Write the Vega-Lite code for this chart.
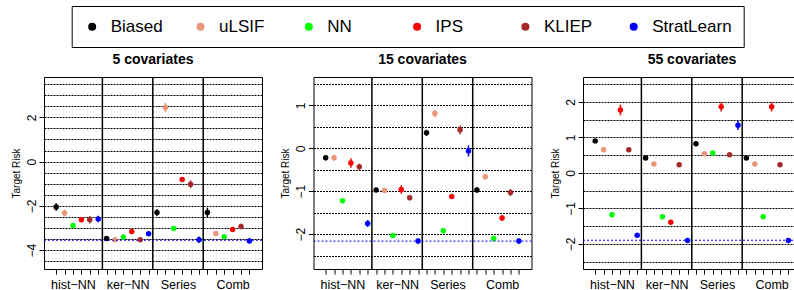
{
  "$schema": "https://vega.github.io/schema/vega-lite/v6.json",
  "padding": {"left": 10, "top": 5, "right": 0, "bottom": 0},
  "config": {
    "font": "Liberation Sans",
    "view": {"stroke": "black", "strokeWidth": 1},
    "axis": {"labelColor": "black", "tickColor": "black", "titleColor": "black", "labelFont": "Liberation Sans", "titleFont": "Liberation Sans"},
    "axisX": {"grid": false, "domain": false, "tickSize": 5, "labelPadding": 4, "labelFontSize": 12.5, "labelOverlap": false, "labelFlush": false, "labelBound": false},
    "axisY": {"grid": true, "gridDash": [2, 1], "gridColor": "black", "gridWidth": 1, "gridOpacity": 1, "domain": false, "tickSize": 5, "labelAngle": 270, "labelAlign": "center", "labelBaseline": "middle", "labelPadding": 8, "labelFontSize": 12, "labelOverlap": false, "labelFlush": false, "labelBound": false,
              "titleFontSize": 10, "titleFontWeight": "normal", "titleX": -28, "titleY": 96, "titleAngle": 270, "titleAlign": "center", "titleBaseline": "middle"},
    "legend": {"title": null, "orient": "none", "legendX": 27.7, "legendY": -71, "direction": "horizontal", "columns": 6, "gridAlign": "all", "symbolType": "circle", "symbolSize": 64, "symbolStrokeWidth": 0, "labelFontSize": 17, "labelFont": "Liberation Sans", "labelColor": "black", "labelOffset": 10, "columnPadding": 1.3, "padding": 12, "strokeColor": "black"},
    "title": {"font": "Liberation Sans", "color": "black", "fontSize": 14, "fontWeight": "bold", "baseline": "alphabetic", "offset": 9}
  },
  "bounds": "flush",
  "spacing": 51.5,
  "datasets": {
    "seps": [{"pos": 6.5}, {"pos": 12.5}, {"pos": 18.5}],
    "refs": [{"panel": "5", "risk": -3.55}, {"panel": "15", "risk": -2.16}, {"panel": "55", "risk": -1.9}],
    "pts": [
      {"panel": "5", "pos": 1, "method": "Biased", "risk": -2.05, "lo": -2.22, "hi": -1.88},
      {"panel": "5", "pos": 2, "method": "uLSIF", "risk": -2.32, "lo": -2.47, "hi": -2.17},
      {"panel": "5", "pos": 3, "method": "NN", "risk": -2.89, "lo": -2.94, "hi": -2.84},
      {"panel": "5", "pos": 4, "method": "IPS", "risk": -2.63, "lo": -2.71, "hi": -2.55},
      {"panel": "5", "pos": 5, "method": "KLIEP", "risk": -2.63, "lo": -2.8, "hi": -2.46},
      {"panel": "5", "pos": 6, "method": "StratLearn", "risk": -2.59, "lo": -2.74, "hi": -2.44},
      {"panel": "5", "pos": 7, "method": "Biased", "risk": -3.47, "lo": -3.55, "hi": -3.39},
      {"panel": "5", "pos": 8, "method": "uLSIF", "risk": -3.53, "lo": -3.6, "hi": -3.46},
      {"panel": "5", "pos": 9, "method": "NN", "risk": -3.4, "lo": -3.45, "hi": -3.35},
      {"panel": "5", "pos": 10, "method": "IPS", "risk": -3.16, "lo": -3.24, "hi": -3.08},
      {"panel": "5", "pos": 11, "method": "KLIEP", "risk": -3.53, "lo": -3.58, "hi": -3.48},
      {"panel": "5", "pos": 12, "method": "StratLearn", "risk": -3.26, "lo": -3.31, "hi": -3.21},
      {"panel": "5", "pos": 13, "method": "Biased", "risk": -2.3, "lo": -2.45, "hi": -2.15},
      {"panel": "5", "pos": 14, "method": "uLSIF", "risk": 2.44, "lo": 2.24, "hi": 2.64},
      {"panel": "5", "pos": 15, "method": "NN", "risk": -3.02, "lo": -3.06, "hi": -2.98},
      {"panel": "5", "pos": 16, "method": "IPS", "risk": -0.81, "lo": -0.86, "hi": -0.76},
      {"panel": "5", "pos": 17, "method": "KLIEP", "risk": -1.02, "lo": -1.19, "hi": -0.85},
      {"panel": "5", "pos": 18, "method": "StratLearn", "risk": -3.53, "lo": -3.68, "hi": -3.38},
      {"panel": "5", "pos": 19, "method": "Biased", "risk": -2.3, "lo": -2.52, "hi": -2.08},
      {"panel": "5", "pos": 20, "method": "uLSIF", "risk": -3.25, "lo": -3.31, "hi": -3.19},
      {"panel": "5", "pos": 21, "method": "NN", "risk": -3.39, "lo": -3.44, "hi": -3.34},
      {"panel": "5", "pos": 22, "method": "IPS", "risk": -3.07, "lo": -3.13, "hi": -3.01},
      {"panel": "5", "pos": 23, "method": "KLIEP", "risk": -2.93, "lo": -3.05, "hi": -2.81},
      {"panel": "5", "pos": 24, "method": "StratLearn", "risk": -3.58, "lo": -3.7, "hi": -3.46},
      {"panel": "15", "pos": 1, "method": "Biased", "risk": -0.22, "lo": -0.28, "hi": -0.16},
      {"panel": "15", "pos": 2, "method": "uLSIF", "risk": -0.22, "lo": -0.29, "hi": -0.15},
      {"panel": "15", "pos": 3, "method": "NN", "risk": -1.22, "lo": -1.24, "hi": -1.2},
      {"panel": "15", "pos": 4, "method": "IPS", "risk": -0.34, "lo": -0.45, "hi": -0.23},
      {"panel": "15", "pos": 5, "method": "KLIEP", "risk": -0.43, "lo": -0.5, "hi": -0.36},
      {"panel": "15", "pos": 6, "method": "StratLearn", "risk": -1.75, "lo": -1.83, "hi": -1.67},
      {"panel": "15", "pos": 7, "method": "Biased", "risk": -0.97, "lo": -1.02, "hi": -0.92},
      {"panel": "15", "pos": 8, "method": "uLSIF", "risk": -0.98, "lo": -1.04, "hi": -0.92},
      {"panel": "15", "pos": 9, "method": "NN", "risk": -2.03, "lo": -2.06, "hi": -2.0},
      {"panel": "15", "pos": 10, "method": "IPS", "risk": -0.96, "lo": -1.06, "hi": -0.86},
      {"panel": "15", "pos": 11, "method": "KLIEP", "risk": -1.15, "lo": -1.21, "hi": -1.09},
      {"panel": "15", "pos": 12, "method": "StratLearn", "risk": -2.16, "lo": -2.22, "hi": -2.1},
      {"panel": "15", "pos": 13, "method": "Biased", "risk": 0.36, "lo": 0.29, "hi": 0.43},
      {"panel": "15", "pos": 14, "method": "uLSIF", "risk": 0.81, "lo": 0.72, "hi": 0.9},
      {"panel": "15", "pos": 15, "method": "NN", "risk": -1.92, "lo": -1.98, "hi": -1.86},
      {"panel": "15", "pos": 16, "method": "IPS", "risk": -1.12, "lo": -1.16, "hi": -1.08},
      {"panel": "15", "pos": 17, "method": "KLIEP", "risk": 0.43, "lo": 0.33, "hi": 0.53},
      {"panel": "15", "pos": 18, "method": "StratLearn", "risk": -0.06, "lo": -0.19, "hi": 0.07},
      {"panel": "15", "pos": 19, "method": "Biased", "risk": -0.97, "lo": -1.03, "hi": -0.91},
      {"panel": "15", "pos": 20, "method": "uLSIF", "risk": -0.66, "lo": -0.72, "hi": -0.6},
      {"panel": "15", "pos": 21, "method": "NN", "risk": -2.1, "lo": -2.13, "hi": -2.07},
      {"panel": "15", "pos": 22, "method": "IPS", "risk": -1.62, "lo": -1.69, "hi": -1.55},
      {"panel": "15", "pos": 23, "method": "KLIEP", "risk": -1.03, "lo": -1.11, "hi": -0.95},
      {"panel": "15", "pos": 24, "method": "StratLearn", "risk": -2.16, "lo": -2.22, "hi": -2.1},
      {"panel": "55", "pos": 1, "method": "Biased", "risk": 0.9, "lo": 0.86, "hi": 0.94},
      {"panel": "55", "pos": 2, "method": "uLSIF", "risk": 0.65, "lo": 0.61, "hi": 0.69},
      {"panel": "55", "pos": 3, "method": "NN", "risk": -1.18, "lo": -1.21, "hi": -1.15},
      {"panel": "55", "pos": 4, "method": "IPS", "risk": 1.77, "lo": 1.62, "hi": 1.92},
      {"panel": "55", "pos": 5, "method": "KLIEP", "risk": 0.65, "lo": 0.6, "hi": 0.7},
      {"panel": "55", "pos": 6, "method": "StratLearn", "risk": -1.76, "lo": -1.82, "hi": -1.7},
      {"panel": "55", "pos": 7, "method": "Biased", "risk": 0.42, "lo": 0.37, "hi": 0.47},
      {"panel": "55", "pos": 8, "method": "uLSIF", "risk": 0.25, "lo": 0.21, "hi": 0.29},
      {"panel": "55", "pos": 9, "method": "NN", "risk": -1.24, "lo": -1.27, "hi": -1.21},
      {"panel": "55", "pos": 10, "method": "IPS", "risk": -1.39, "lo": -1.42, "hi": -1.36},
      {"panel": "55", "pos": 11, "method": "KLIEP", "risk": 0.23, "lo": 0.18, "hi": 0.28},
      {"panel": "55", "pos": 12, "method": "StratLearn", "risk": -1.91, "lo": -1.95, "hi": -1.87},
      {"panel": "55", "pos": 13, "method": "Biased", "risk": 0.82, "lo": 0.76, "hi": 0.88},
      {"panel": "55", "pos": 14, "method": "uLSIF", "risk": 0.54, "lo": 0.49, "hi": 0.59},
      {"panel": "55", "pos": 15, "method": "NN", "risk": 0.56, "lo": 0.52, "hi": 0.6},
      {"panel": "55", "pos": 16, "method": "IPS", "risk": 1.86, "lo": 1.73, "hi": 1.99},
      {"panel": "55", "pos": 17, "method": "KLIEP", "risk": 0.51, "lo": 0.46, "hi": 0.56},
      {"panel": "55", "pos": 18, "method": "StratLearn", "risk": 1.34, "lo": 1.21, "hi": 1.47},
      {"panel": "55", "pos": 19, "method": "Biased", "risk": 0.42, "lo": 0.37, "hi": 0.47},
      {"panel": "55", "pos": 20, "method": "uLSIF", "risk": 0.25, "lo": 0.21, "hi": 0.29},
      {"panel": "55", "pos": 21, "method": "NN", "risk": -1.24, "lo": -1.27, "hi": -1.21},
      {"panel": "55", "pos": 22, "method": "IPS", "risk": 1.86, "lo": 1.73, "hi": 1.99},
      {"panel": "55", "pos": 23, "method": "KLIEP", "risk": 0.23, "lo": 0.18, "hi": 0.28},
      {"panel": "55", "pos": 24, "method": "StratLearn", "risk": -1.91, "lo": -1.95, "hi": -1.87}
    ]
  },
  "hconcat": [
    {
      "width": 218, "height": 192,
      "title": "5 covariates",
      "layer": [
        {"data": {"name": "pts"}, "transform": [{"filter": "datum.panel == '5'"}],
         "mark": {"type": "point", "filled": true, "size": 30, "opacity": 1, "shape": "circle"},
         "encoding": {
           "x": {"field": "pos", "type": "quantitative", "scale": {"domain": [-0.45, 25.5], "nice": false, "zero": false},
                 "axis": {"title": null, "values": [1,2,3,4,5,6,7,8,9,10,11,12,13,14,15,16,17,18,19,20,21,22,23,24,9.5,15.5], "labelExpr": "datum.value == 3 ? 'hist\u2212NN' : datum.value == 9.5 ? 'ker\u2212NN' : datum.value == 15.5 ? 'Series' : datum.value == 22 ? 'Comb' : ''", "tickOpacity": {"condition": {"test": "datum.value == 9.5 || datum.value == 15.5", "value": 0}, "value": 1}}},
           "y": {"field": "risk", "type": "quantitative", "scale": {"domain": [-4.85, 3.82], "nice": false, "zero": false},
                 "axis": {"title": "Target Risk", "format": ".0f", "values": [-4.5,-4,-3.5,-3,-2.5,-2,-1.5,-1,-0.5,0,0.5,1,1.5,2,2.5,3,3.5], "labelExpr": "datum.value % 2 == 0 ? datum.label : ''", "tickOpacity": {"condition": {"test": "datum.value % 2 != 0", "value": 0}, "value": 1}}},
           "color": {"field": "method", "type": "nominal", "scale": {"domain": ["Biased", "uLSIF", "NN", "IPS", "KLIEP", "StratLearn"], "range": ["#000000", "#E9967A", "#00FF00", "#FF0000", "#A52A2A", "#0000FF"]}}
         }},
        {"data": {"name": "seps"}, "mark": {"type": "rule", "color": "black", "strokeWidth": 1.5},
         "encoding": {"x": {"field": "pos", "type": "quantitative", "scale": {"domain": [-0.45, 25.5], "nice": false, "zero": false},
                 "axis": {"title": null, "values": [1,2,3,4,5,6,7,8,9,10,11,12,13,14,15,16,17,18,19,20,21,22,23,24,9.5,15.5], "labelExpr": "datum.value == 3 ? 'hist\u2212NN' : datum.value == 9.5 ? 'ker\u2212NN' : datum.value == 15.5 ? 'Series' : datum.value == 22 ? 'Comb' : ''", "tickOpacity": {"condition": {"test": "datum.value == 9.5 || datum.value == 15.5", "value": 0}, "value": 1}}}}},
        {"data": {"name": "refs"}, "transform": [{"filter": "datum.panel == '5'"}],
         "mark": {"type": "rule", "color": "#0000FF", "strokeDash": [2, 2], "strokeWidth": 1},
         "encoding": {"y": {"field": "risk", "type": "quantitative", "scale": {"domain": [-4.85, 3.82], "nice": false, "zero": false},
                 "axis": {"title": "Target Risk", "format": ".0f", "values": [-4.5,-4,-3.5,-3,-2.5,-2,-1.5,-1,-0.5,0,0.5,1,1.5,2,2.5,3,3.5], "labelExpr": "datum.value % 2 == 0 ? datum.label : ''", "tickOpacity": {"condition": {"test": "datum.value % 2 != 0", "value": 0}, "value": 1}}}}},
        {"data": {"name": "pts"}, "transform": [{"filter": "datum.panel == '5'"}],
         "mark": {"type": "rule", "strokeWidth": 1.5},
         "encoding": {
           "x": {"field": "pos", "type": "quantitative", "scale": {"domain": [-0.45, 25.5], "nice": false, "zero": false},
                 "axis": {"title": null, "values": [1,2,3,4,5,6,7,8,9,10,11,12,13,14,15,16,17,18,19,20,21,22,23,24,9.5,15.5], "labelExpr": "datum.value == 3 ? 'hist\u2212NN' : datum.value == 9.5 ? 'ker\u2212NN' : datum.value == 15.5 ? 'Series' : datum.value == 22 ? 'Comb' : ''", "tickOpacity": {"condition": {"test": "datum.value == 9.5 || datum.value == 15.5", "value": 0}, "value": 1}}},
           "y": {"field": "lo", "type": "quantitative", "scale": {"domain": [-4.85, 3.82], "nice": false, "zero": false},
                 "axis": {"title": "Target Risk", "format": ".0f", "values": [-4.5,-4,-3.5,-3,-2.5,-2,-1.5,-1,-0.5,0,0.5,1,1.5,2,2.5,3,3.5], "labelExpr": "datum.value % 2 == 0 ? datum.label : ''", "tickOpacity": {"condition": {"test": "datum.value % 2 != 0", "value": 0}, "value": 1}}},
           "y2": {"field": "hi"},
           "color": {"field": "method", "type": "nominal", "scale": {"domain": ["Biased", "uLSIF", "NN", "IPS", "KLIEP", "StratLearn"], "range": ["#000000", "#E9967A", "#00FF00", "#FF0000", "#A52A2A", "#0000FF"]}}
         }}
      ]
    },
    {
      "width": 218, "height": 192,
      "title": "15 covariates",
      "layer": [
        {"data": {"name": "pts"}, "transform": [{"filter": "datum.panel == '15'"}],
         "mark": {"type": "point", "filled": true, "size": 30, "opacity": 1, "shape": "circle"},
         "encoding": {
           "x": {"field": "pos", "type": "quantitative", "scale": {"domain": [-0.45, 25.5], "nice": false, "zero": false},
                 "axis": {"title": null, "values": [1,2,3,4,5,6,7,8,9,10,11,12,13,14,15,16,17,18,19,20,21,22,23,24,9.5,15.5], "labelExpr": "datum.value == 3 ? 'hist\u2212NN' : datum.value == 9.5 ? 'ker\u2212NN' : datum.value == 15.5 ? 'Series' : datum.value == 22 ? 'Comb' : ''", "tickOpacity": {"condition": {"test": "datum.value == 9.5 || datum.value == 15.5", "value": 0}, "value": 1}}},
           "y": {"field": "risk", "type": "quantitative", "scale": {"domain": [-2.81, 1.66], "nice": false, "zero": false},
                 "axis": {"title": "Target Risk", "format": ".0f", "values": [-2.5,-2,-1.5,-1,-0.5,0,0.5,1,1.5], "labelExpr": "datum.value % 1 == 0 ? datum.label : ''", "tickOpacity": {"condition": {"test": "datum.value % 1 != 0", "value": 0}, "value": 1}}},
           "color": {"field": "method", "type": "nominal", "scale": {"domain": ["Biased", "uLSIF", "NN", "IPS", "KLIEP", "StratLearn"], "range": ["#000000", "#E9967A", "#00FF00", "#FF0000", "#A52A2A", "#0000FF"]}}
         }},
        {"data": {"name": "seps"}, "mark": {"type": "rule", "color": "black", "strokeWidth": 1.5},
         "encoding": {"x": {"field": "pos", "type": "quantitative", "scale": {"domain": [-0.45, 25.5], "nice": false, "zero": false},
                 "axis": {"title": null, "values": [1,2,3,4,5,6,7,8,9,10,11,12,13,14,15,16,17,18,19,20,21,22,23,24,9.5,15.5], "labelExpr": "datum.value == 3 ? 'hist\u2212NN' : datum.value == 9.5 ? 'ker\u2212NN' : datum.value == 15.5 ? 'Series' : datum.value == 22 ? 'Comb' : ''", "tickOpacity": {"condition": {"test": "datum.value == 9.5 || datum.value == 15.5", "value": 0}, "value": 1}}}}},
        {"data": {"name": "refs"}, "transform": [{"filter": "datum.panel == '15'"}],
         "mark": {"type": "rule", "color": "#0000FF", "strokeDash": [2, 2], "strokeWidth": 1},
         "encoding": {"y": {"field": "risk", "type": "quantitative", "scale": {"domain": [-2.81, 1.66], "nice": false, "zero": false},
                 "axis": {"title": "Target Risk", "format": ".0f", "values": [-2.5,-2,-1.5,-1,-0.5,0,0.5,1,1.5], "labelExpr": "datum.value % 1 == 0 ? datum.label : ''", "tickOpacity": {"condition": {"test": "datum.value % 1 != 0", "value": 0}, "value": 1}}}}},
        {"data": {"name": "pts"}, "transform": [{"filter": "datum.panel == '15'"}],
         "mark": {"type": "rule", "strokeWidth": 1.5},
         "encoding": {
           "x": {"field": "pos", "type": "quantitative", "scale": {"domain": [-0.45, 25.5], "nice": false, "zero": false},
                 "axis": {"title": null, "values": [1,2,3,4,5,6,7,8,9,10,11,12,13,14,15,16,17,18,19,20,21,22,23,24,9.5,15.5], "labelExpr": "datum.value == 3 ? 'hist\u2212NN' : datum.value == 9.5 ? 'ker\u2212NN' : datum.value == 15.5 ? 'Series' : datum.value == 22 ? 'Comb' : ''", "tickOpacity": {"condition": {"test": "datum.value == 9.5 || datum.value == 15.5", "value": 0}, "value": 1}}},
           "y": {"field": "lo", "type": "quantitative", "scale": {"domain": [-2.81, 1.66], "nice": false, "zero": false},
                 "axis": {"title": "Target Risk", "format": ".0f", "values": [-2.5,-2,-1.5,-1,-0.5,0,0.5,1,1.5], "labelExpr": "datum.value % 1 == 0 ? datum.label : ''", "tickOpacity": {"condition": {"test": "datum.value % 1 != 0", "value": 0}, "value": 1}}},
           "y2": {"field": "hi"},
           "color": {"field": "method", "type": "nominal", "scale": {"domain": ["Biased", "uLSIF", "NN", "IPS", "KLIEP", "StratLearn"], "range": ["#000000", "#E9967A", "#00FF00", "#FF0000", "#A52A2A", "#0000FF"]}}
         }}
      ]
    },
    {
      "width": 218, "height": 192,
      "title": "55 covariates",
      "layer": [
        {"data": {"name": "pts"}, "transform": [{"filter": "datum.panel == '55'"}],
         "mark": {"type": "point", "filled": true, "size": 30, "opacity": 1, "shape": "circle"},
         "encoding": {
           "x": {"field": "pos", "type": "quantitative", "scale": {"domain": [-0.45, 25.5], "nice": false, "zero": false},
                 "axis": {"title": null, "values": [1,2,3,4,5,6,7,8,9,10,11,12,13,14,15,16,17,18,19,20,21,22,23,24,9.5,15.5], "labelExpr": "datum.value == 3 ? 'hist\u2212NN' : datum.value == 9.5 ? 'ker\u2212NN' : datum.value == 15.5 ? 'Series' : datum.value == 22 ? 'Comb' : ''", "tickOpacity": {"condition": {"test": "datum.value == 9.5 || datum.value == 15.5", "value": 0}, "value": 1}}},
           "y": {"field": "risk", "type": "quantitative", "scale": {"domain": [-2.71, 2.7], "nice": false, "zero": false},
                 "axis": {"title": "Target Risk", "format": ".0f", "values": [-2.5,-2,-1.5,-1,-0.5,0,0.5,1,1.5,2,2.5], "labelExpr": "datum.value % 1 == 0 ? datum.label : ''", "tickOpacity": {"condition": {"test": "datum.value % 1 != 0", "value": 0}, "value": 1}}},
           "color": {"field": "method", "type": "nominal", "scale": {"domain": ["Biased", "uLSIF", "NN", "IPS", "KLIEP", "StratLearn"], "range": ["#000000", "#E9967A", "#00FF00", "#FF0000", "#A52A2A", "#0000FF"]}}
         }},
        {"data": {"name": "seps"}, "mark": {"type": "rule", "color": "black", "strokeWidth": 1.5},
         "encoding": {"x": {"field": "pos", "type": "quantitative", "scale": {"domain": [-0.45, 25.5], "nice": false, "zero": false},
                 "axis": {"title": null, "values": [1,2,3,4,5,6,7,8,9,10,11,12,13,14,15,16,17,18,19,20,21,22,23,24,9.5,15.5], "labelExpr": "datum.value == 3 ? 'hist\u2212NN' : datum.value == 9.5 ? 'ker\u2212NN' : datum.value == 15.5 ? 'Series' : datum.value == 22 ? 'Comb' : ''", "tickOpacity": {"condition": {"test": "datum.value == 9.5 || datum.value == 15.5", "value": 0}, "value": 1}}}}},
        {"data": {"name": "refs"}, "transform": [{"filter": "datum.panel == '55'"}],
         "mark": {"type": "rule", "color": "#0000FF", "strokeDash": [2, 2], "strokeWidth": 1},
         "encoding": {"y": {"field": "risk", "type": "quantitative", "scale": {"domain": [-2.71, 2.7], "nice": false, "zero": false},
                 "axis": {"title": "Target Risk", "format": ".0f", "values": [-2.5,-2,-1.5,-1,-0.5,0,0.5,1,1.5,2,2.5], "labelExpr": "datum.value % 1 == 0 ? datum.label : ''", "tickOpacity": {"condition": {"test": "datum.value % 1 != 0", "value": 0}, "value": 1}}}}},
        {"data": {"name": "pts"}, "transform": [{"filter": "datum.panel == '55'"}],
         "mark": {"type": "rule", "strokeWidth": 1.5},
         "encoding": {
           "x": {"field": "pos", "type": "quantitative", "scale": {"domain": [-0.45, 25.5], "nice": false, "zero": false},
                 "axis": {"title": null, "values": [1,2,3,4,5,6,7,8,9,10,11,12,13,14,15,16,17,18,19,20,21,22,23,24,9.5,15.5], "labelExpr": "datum.value == 3 ? 'hist\u2212NN' : datum.value == 9.5 ? 'ker\u2212NN' : datum.value == 15.5 ? 'Series' : datum.value == 22 ? 'Comb' : ''", "tickOpacity": {"condition": {"test": "datum.value == 9.5 || datum.value == 15.5", "value": 0}, "value": 1}}},
           "y": {"field": "lo", "type": "quantitative", "scale": {"domain": [-2.71, 2.7], "nice": false, "zero": false},
                 "axis": {"title": "Target Risk", "format": ".0f", "values": [-2.5,-2,-1.5,-1,-0.5,0,0.5,1,1.5,2,2.5], "labelExpr": "datum.value % 1 == 0 ? datum.label : ''", "tickOpacity": {"condition": {"test": "datum.value % 1 != 0", "value": 0}, "value": 1}}},
           "y2": {"field": "hi"},
           "color": {"field": "method", "type": "nominal", "scale": {"domain": ["Biased", "uLSIF", "NN", "IPS", "KLIEP", "StratLearn"], "range": ["#000000", "#E9967A", "#00FF00", "#FF0000", "#A52A2A", "#0000FF"]}}
         }}
      ]
    }
  ]
}
